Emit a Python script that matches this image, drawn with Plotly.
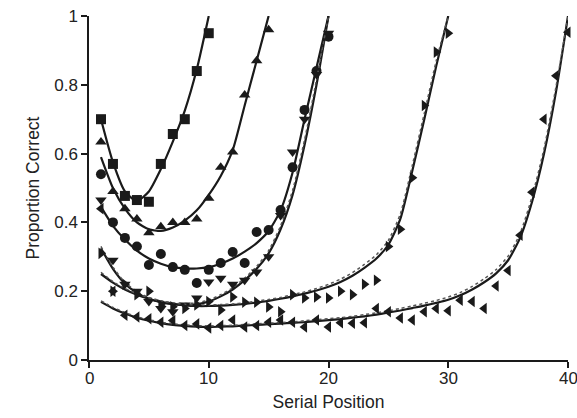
import plotly.graph_objects as go

# Observed proportion correct by serial position for each list condition,
# with the fitted model curves (solid) and the alternative fit (dotted)
pos10 = list(range(1, 11))
obs_10_2 = [0.70, 0.57, 0.477, 0.465, 0.46, 0.57, 0.657, 0.70, 0.84, 0.95]
fit_10_2 = [0.70, 0.575, 0.49, 0.462, 0.49, 0.555, 0.635, 0.725, 0.845, 1.0]

pos15 = list(range(1, 16))
obs_15_2 = [0.634, 0.49, 0.44, 0.41, 0.37, 0.387, 0.40, 0.40, 0.41, 0.47,
            0.56, 0.605, 0.77, 0.87, 0.96]
fit_15_2 = [0.59, 0.50, 0.44, 0.40, 0.38, 0.375, 0.385, 0.405, 0.435, 0.48,
            0.535, 0.61, 0.74, 0.87, 1.0]

pos20 = list(range(1, 21))
obs_20_2 = [0.54, 0.40, 0.355, 0.33, 0.276, 0.308, 0.27, 0.262, 0.224, 0.262,
            0.282, 0.314, 0.282, 0.372, 0.378, 0.436, 0.56, 0.727, 0.84, 0.94]
fit_20_2 = [0.445, 0.39, 0.35, 0.318, 0.295, 0.28, 0.27, 0.266, 0.266, 0.27,
            0.28, 0.295, 0.315, 0.34, 0.375, 0.435, 0.545, 0.70, 0.85, 1.0]

obs_20_1 = [0.465, 0.29, 0.22, 0.20, 0.17, 0.15, 0.14, 0.16, 0.18, 0.227,
            0.238, 0.22, 0.232, 0.256, 0.30, 0.42, 0.605, 0.70, 0.83, 0.95]
fit_20_1 = [0.325, 0.265, 0.222, 0.195, 0.178, 0.168, 0.162, 0.16, 0.162, 0.17,
            0.185, 0.205, 0.232, 0.265, 0.31, 0.38, 0.48, 0.625, 0.80, 1.0]
alt_20_1 = [0.33, 0.27, 0.226, 0.199, 0.182, 0.172, 0.166, 0.164, 0.166, 0.174,
            0.19, 0.21, 0.238, 0.272, 0.318, 0.39, 0.493, 0.64, 0.815, 1.0]

pos30 = list(range(1, 31))
obs_30_1 = [0.31, 0.20, 0.22, 0.19, 0.20, 0.16, 0.155, 0.15, 0.16, 0.17,
            0.145, 0.183, 0.168, 0.168, 0.154, 0.14, 0.19, 0.18, 0.183, 0.18,
            0.20, 0.19, 0.22, 0.232, 0.33, 0.38, 0.53, 0.74, 0.895, 0.95]
fit_30_1 = [0.25, 0.225, 0.205, 0.19, 0.178, 0.169, 0.163, 0.159, 0.157, 0.157,
            0.158, 0.16, 0.163, 0.167, 0.172, 0.178, 0.185, 0.193, 0.202, 0.213,
            0.227, 0.245, 0.268, 0.295, 0.335, 0.41, 0.55, 0.70, 0.855, 1.0]
alt_30_1 = [0.255, 0.228, 0.208, 0.193, 0.181, 0.172, 0.166, 0.162, 0.16, 0.16,
            0.161, 0.163, 0.166, 0.171, 0.176, 0.182, 0.19, 0.198, 0.208, 0.22,
            0.235, 0.254, 0.278, 0.306, 0.348, 0.425, 0.566, 0.717, 0.87, 1.0]

pos40 = list(range(1, 41))
obs_40_1 = [0.44, 0.20, 0.13, 0.125, 0.12, 0.11, 0.115, 0.10, 0.105, 0.093,
            0.10, 0.116, 0.096, 0.10, 0.11, 0.116, 0.11, 0.096, 0.116, 0.096,
            0.108, 0.107, 0.108, 0.15, 0.14, 0.122, 0.116, 0.14, 0.15, 0.143,
            0.174, 0.17, 0.15, 0.215, 0.26, 0.363, 0.488, 0.70, 0.826, 0.953]
fit_40_1 = [0.169, 0.15, 0.135, 0.123, 0.114, 0.107, 0.102, 0.099, 0.097, 0.096,
            0.097, 0.098, 0.10, 0.102, 0.104, 0.106, 0.108, 0.11, 0.113, 0.116,
            0.119, 0.123, 0.127, 0.132, 0.138, 0.144, 0.151, 0.158, 0.166, 0.175,
            0.188, 0.205, 0.226, 0.252, 0.29, 0.355, 0.46, 0.60, 0.78, 1.0]
alt_40_1 = [0.172, 0.153, 0.138, 0.126, 0.117, 0.11, 0.105, 0.102, 0.1, 0.099,
            0.1, 0.101, 0.103, 0.105, 0.107, 0.109, 0.111, 0.114, 0.117, 0.12,
            0.123, 0.127, 0.132, 0.137, 0.143, 0.15, 0.157, 0.165, 0.173, 0.183,
            0.196, 0.214, 0.236, 0.263, 0.302, 0.368, 0.475, 0.615, 0.795, 1.0]

x_ticks = [0, 10, 20, 30, 40]
y_ticks = [0, 0.2, 0.4, 0.6, 0.8, 1]
y_tick_labels = ["0", "0.2", "0.4", "0.6", "0.8", "1"]

conditions = [
    ("10-2", pos10, obs_10_2, fit_10_2, None, "square"),
    ("15-2", pos15, obs_15_2, fit_15_2, None, "triangle-up"),
    ("20-2", pos20, obs_20_2, fit_20_2, None, "circle"),
    ("20-1", pos20, obs_20_1, fit_20_1, alt_20_1, "triangle-down"),
    ("30-1", pos30, obs_30_1, fit_30_1, alt_30_1, "triangle-right"),
    ("40-1", pos40, obs_40_1, fit_40_1, alt_40_1, "triangle-left"),
]

ink = "#1a1a1a"
fig = go.Figure()

for name, x, obs, fit, alt, symbol in conditions:
    fig.add_trace(go.Scatter(
        x=x, y=fit, mode="lines", name=name + " fit",
        line=dict(color=ink, width=2.2, shape="spline", smoothing=0.6),
        cliponaxis=False, showlegend=False))
    if alt is not None:
        fig.add_trace(go.Scatter(
            x=x, y=alt, mode="lines", name=name + " alt",
            line=dict(color="#555555", width=1.5, dash="dot",
                      shape="spline", smoothing=0.6),
            cliponaxis=False, showlegend=False))
    fig.add_trace(go.Scatter(
        x=x, y=obs, mode="markers", name=name,
        marker=dict(symbol=symbol, size=10, color=ink, line=dict(width=0)),
        cliponaxis=False, showlegend=False))

tick_font = dict(family="Liberation Sans, Arial, sans-serif", size=17, color="#222222")
title_font = dict(family="Liberation Sans, Arial, sans-serif", size=17.5, color="#222222")

# The last x tick label sits at the right edge of the page; write every
# x label as an annotation so none is dropped by the axis.
x_tick_text = [""] * len(x_ticks)
for v in x_ticks:
    fig.add_annotation(
        x=v, y=0, xref="x", yref="paper", text=str(v), showarrow=False,
        xanchor="center", yanchor="top", yshift=-7, font=tick_font)

fig.update_layout(
    width=577, height=418,
    margin=dict(l=89, r=9, t=16, b=58),
    paper_bgcolor="white", plot_bgcolor="white",
    font=tick_font,
    xaxis=dict(
        range=[0, 40], tickvals=x_ticks, ticktext=x_tick_text,
        showline=True, linecolor=ink, linewidth=1.5,
        ticks="outside", ticklen=6, tickwidth=1.5, tickcolor=ink,
        tickfont=tick_font, showgrid=False, zeroline=False, automargin=False,
        title=dict(text="Serial Position", font=title_font, standoff=26),
    ),
    yaxis=dict(
        range=[0, 1], tickvals=y_ticks, ticktext=y_tick_labels,
        showline=True, linecolor=ink, linewidth=1.5,
        ticks="outside", ticklen=6, tickwidth=1.5, tickcolor=ink,
        tickfont=tick_font, showgrid=False, zeroline=False, automargin=False,
        title=dict(text="Proportion Correct", font=title_font, standoff=10),
    ),
)

fig.write_html("out.html")
